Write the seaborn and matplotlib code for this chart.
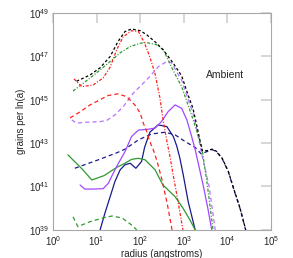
import seaborn as sns
import matplotlib.pyplot as plt
import numpy as np
import pandas as pd

# log10(radius / angstrom) and log10(grains per ln a)
total_la = [0.54, 0.85, 1.08, 1.31, 1.49, 1.65, 1.80, 2.0, 2.15, 2.35, 2.53, 2.75, 2.95, 3.1, 3.21,
            3.33, 3.42, 3.52, 3.65, 3.75, 3.88, 4.02, 4.16, 4.29, 4.42]
total_ln = [45.85, 46.14, 46.47, 46.99, 47.68, 48.14, 48.26, 48.18, 47.99, 47.65, 47.29, 46.7, 46.1, 45.2, 44.6,
            43.5, 42.65, 42.65, 42.72, 42.62, 42.3, 41.7, 40.8, 40.0, 39.0]

red_dd_la = [0.48, 0.66, 0.92, 1.15, 1.31, 1.46, 1.61, 1.80, 1.96, 2.1, 2.22, 2.34, 2.45, 2.53, 2.61, 2.68,
             2.75, 2.85, 2.98]
red_dd_ln = [45.96, 45.6, 45.68, 46.0, 46.5, 47.3, 47.9, 48.18, 48.14, 47.6, 46.97, 46.2, 45.1, 44.0, 43.1, 42.4,
             41.6, 40.5, 39.0]

red_d_la = [0.39, 0.62, 0.85, 1.08, 1.26, 1.49, 1.69, 1.88, 2.0, 2.07, 2.15, 2.22, 2.3, 2.38, 2.5, 2.62, 2.73]
red_d_ln = [44.16, 44.44, 44.76, 45.0, 45.19, 45.27, 45.14, 44.75, 44.38, 43.92, 43.53, 43.07, 42.69, 42.2, 41.3,
            40.2, 39.0]

green_dd_la = [0.46, 0.85, 1.08, 1.31, 1.54, 1.77, 2.0, 2.15, 2.38, 2.53, 2.75, 2.95, 3.21, 3.41, 3.53, 3.67]
green_dd_ln = [45.4, 46.0, 46.37, 46.76, 47.16, 47.45, 47.6, 47.63, 47.53, 47.3, 46.37, 45.6, 44.1, 42.84, 41.2,
               39.0]

green_s_la = [0.34, 0.67, 0.89, 1.17, 1.46, 1.65, 1.8, 1.96, 2.11, 2.34, 2.52, 2.8, 2.98, 3.14, 3.26]
green_s_ln = [42.46, 41.8, 41.3, 41.5, 41.88, 42.07, 42.25, 42.3, 42.23, 41.77, 41.07, 40.53, 40.0, 39.46, 39.0]

green_d_la = [0.46, 0.57, 0.85, 1.15, 1.35, 1.58, 1.8, 1.92]
green_d_ln = [39.6, 39.15, 39.38, 39.55, 39.64, 39.55, 39.23, 39.0]

purple_d_la = [0.43, 0.54, 0.77, 1.08, 1.23, 1.42, 1.61, 1.84, 2.07, 2.22, 2.42, 2.61, 2.72, 2.83, 2.95, 3.1,
               3.21, 3.33, 3.42, 3.58, 3.72]
purple_d_ln = [44.07, 43.92, 43.96, 43.99, 44.04, 44.3, 44.68, 45.3, 45.76, 46.07, 46.53, 46.76, 46.7, 46.3, 45.9,
               45.0, 44.4, 43.3, 42.4, 41.0, 39.0]

purple_s_la = [0.62, 0.73, 0.92, 1.15, 1.27, 1.38, 1.5, 1.65, 1.8, 1.96, 2.19, 2.34, 2.49, 2.64, 2.8, 2.95,
               3.07, 3.18, 3.26, 3.35, 3.45, 3.55, 3.64]
purple_s_ln = [41.07, 40.88, 40.88, 40.9, 41.15, 41.61, 42.07, 42.6, 43.3, 43.6, 43.64, 43.69, 44.0, 44.45, 44.76,
               44.6, 44.07, 43.3, 42.7, 41.9, 41.0, 40.0, 39.0]

navy_s_la = [1.08, 1.19, 1.31, 1.42, 1.54, 1.65, 1.77, 1.9, 2.03, 2.1, 2.22, 2.41, 2.61, 2.76, 2.84, 2.91,
             2.99, 3.1, 3.26]
navy_s_ln = [39.0, 39.77, 40.53, 41.23, 41.77, 42.0, 42.07, 41.84, 42.15, 42.8, 43.5, 43.84, 43.76, 43.3, 42.85,
             42.3, 41.5, 40.3, 39.0]

navy_d_la = [0.5, 1.04, 1.46, 1.65, 1.96, 2.26, 2.57, 2.8, 3.03, 3.26, 3.4, 3.52, 3.65, 3.75, 3.88, 4.02,
             4.16, 4.29, 4.42]
navy_d_ln = [41.84, 42.23, 42.55, 42.72, 43.15, 43.42, 43.5, 43.38, 43.07, 42.8, 42.5, 42.6, 42.7, 42.6, 42.28,
             41.68, 40.78, 39.98, 38.98]

x_ticks = [1, 10, 100, 1000, 10000, 100000]
x_labels = [r"$10^{0}$", r"$10^{1}$", r"$10^{2}$", r"$10^{3}$", r"$10^{4}$", r"$10^{5}$"]
y_ticks = [1e39, 1e41, 1e43, 1e45, 1e47, 1e49]
y_labels = [r"$10^{39}$", r"$10^{41}$", r"$10^{43}$", r"$10^{45}$", r"$10^{47}$", r"$10^{49}$"]

sns.set_style("white")
plt.rcParams["font.family"] = ["Liberation Sans", "DejaVu Sans"]
plt.rcParams["mathtext.fontset"] = "custom"
plt.rcParams["mathtext.rm"] = "Liberation Sans"
plt.rcParams["mathtext.default"] = "regular"
plt.rcParams["lines.scale_dashes"] = False

NAVY = "#1a1a8c"
PURPLE = "#a347ff"
PURPLE_L = "#b773ff"
GREEN = "#2e9a2e"
RED = "#ff2020"

curves = [
    (navy_d_la, navy_d_ln, NAVY, (0, (3.0, 2.2))),
    (navy_s_la, navy_s_ln, NAVY, "-"),
    (green_d_la, green_d_ln, GREEN, (0, (3.0, 2.2))),
    (green_s_la, green_s_ln, GREEN, "-"),
    (purple_s_la, purple_s_ln, PURPLE, "-"),
    (purple_d_la, purple_d_ln, PURPLE_L, (0, (3.0, 2.2))),
    (green_dd_la, green_dd_ln, GREEN, (0, (2.2, 1.2, 0.8, 1.2))),
    (red_d_la, red_d_ln, RED, (0, (3.0, 2.2))),
    (red_dd_la, red_dd_ln, RED, (0, (2.2, 1.2, 0.8, 1.2))),
    (total_la, total_ln, "black", (0, (2.0, 1.6))),
]

fig = plt.figure(figsize=(2.93, 2.58), dpi=100)
ax = fig.add_axes([0.181, 0.109, 0.744, 0.841])

for la, ln, color, ls in curves:
    df = pd.DataFrame({"radius": 10 ** np.array(la), "grains": 10 ** np.array(ln)})
    sns.lineplot(data=df, x="radius", y="grains", ax=ax, color=color, linestyle=ls,
                 linewidth=0.9, sort=False, estimator=None)

ax.set_xscale("log")
ax.set_yscale("log")
ax.set_xlim(1, 1e5)
ax.set_ylim(1e39, 1e49)
ax.set_xticks(x_ticks)
ax.set_xticklabels(x_labels)
ax.set_yticks(y_ticks)
ax.set_yticklabels(y_labels)
ax.minorticks_off()
ax.tick_params(axis="both", which="major", direction="in", length=7, width=1.2, color="#d0d0d0",
               labelsize=7, top=True, right=True, pad=3)
for sp in ax.spines.values():
    sp.set_color("#a8a8a8")
    sp.set_linewidth(0.8)

ax.set_xlabel("radius (angstroms)", fontsize=7, labelpad=1)
ax.set_ylabel("grains per ln(a)", fontsize=7, labelpad=2)
ax.text(0.79, 0.715, "Ambient", transform=ax.transAxes, fontsize=7.5, ha="center", va="center")

fig.savefig("out.png", dpi=100)
